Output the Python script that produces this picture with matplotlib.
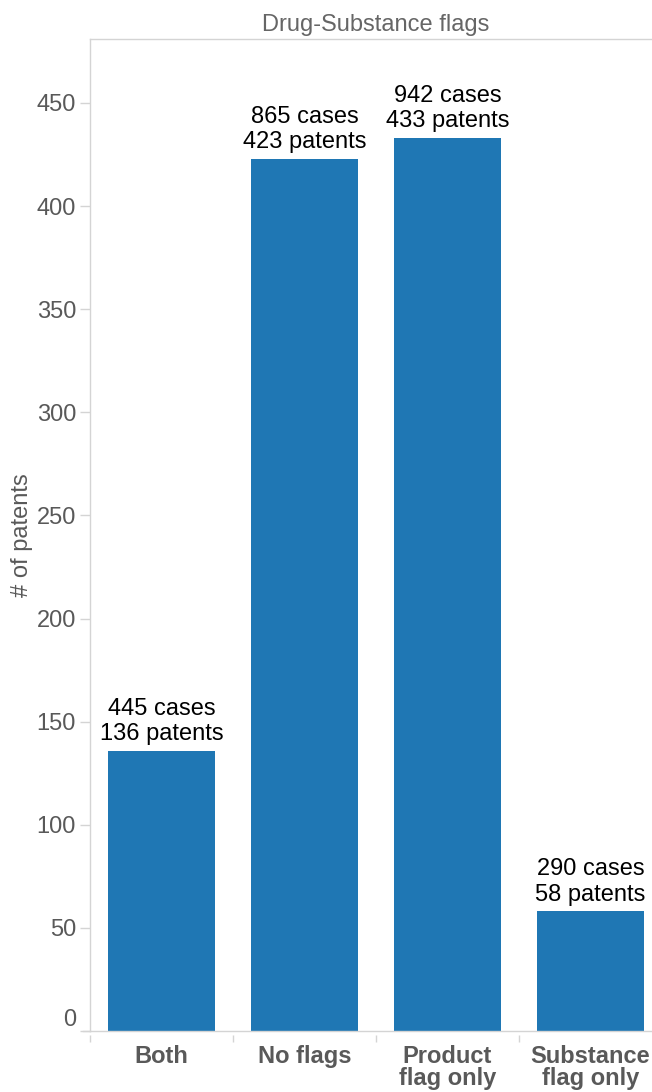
import numpy as np
import matplotlib
matplotlib.use("Agg")
import matplotlib.pyplot as plt

categories = ["Both", "No flags", "Product\nflag only", "Substance\nflag only"]
patents = [136, 423, 433, 58]
cases = [445, 865, 942, 290]
yticks = [0, 50, 100, 150, 200, 250, 300, 350, 400, 450]

plt.rcParams["font.family"] = ["Liberation Sans", "DejaVu Sans"]

grey_line = "#d4d4d4"
grey_text = "#595959"
bar_color = "#1f77b4"

fig = plt.figure(figsize=(6.52, 10.92), dpi=100)
# plot area runs a little past the right edge of the figure
ax = fig.add_axes([90 / 652, 61 / 1092, 572 / 652, 992 / 1092])

x = np.arange(len(categories))
ax.bar(x, patents, width=0.75, color=bar_color, zorder=2)

for xi, c, p in zip(x, cases, patents):
    ax.annotate(f"{c} cases\n{p} patents", (xi, p), xytext=(0, 4),
                textcoords="offset points", ha="center", va="bottom",
                fontsize=17, color="black", linespacing=1.2)

ax.set_xlim(-0.5, len(categories) - 0.5)
ax.set_ylim(0, 481)

for side in ["top", "left", "right"]:
    ax.spines[side].set_color(grey_line)
    ax.spines[side].set_linewidth(1)
ax.spines["bottom"].set_visible(False)
ax.axhline(0, color=grey_line, lw=1, clip_on=False, zorder=3)
ax.plot([-0.5 - 7 / 143, -0.5], [0, 0], color=grey_line, lw=1,
        clip_on=False, zorder=3)

ax.set_yticks(yticks)
ax.tick_params(axis="y", length=7, width=1, color=grey_line, pad=3,
               labelsize=17, labelcolor=grey_text)
for lbl in ax.get_yticklabels():
    if lbl.get_text() == "0":
        lbl.set_va("bottom")

ax.set_xticks(np.arange(-0.5, len(categories)), minor=True)
ax.tick_params(axis="x", which="minor", length=5, width=1, color=grey_line)
ax.spines["bottom"].set_position(("outward", 3))
ax.set_xticks(x)
ax.tick_params(axis="x", which="major", length=0, pad=7, labelsize=17,
               labelcolor=grey_text)
ax.set_xticklabels(categories, fontweight="bold", fontsize=17,
                   color=grey_text, linespacing=0.95)

ax.set_ylabel("# of patents", fontsize=17, color=grey_text)
ax.yaxis.set_label_coords(-0.1, 0.5)

fig.text(376 / 652, 1 - 25 / 1092, "Drug-Substance flags", ha="center",
         va="center", fontsize=17, color="#666666")

fig.savefig("out.png", dpi=100)
